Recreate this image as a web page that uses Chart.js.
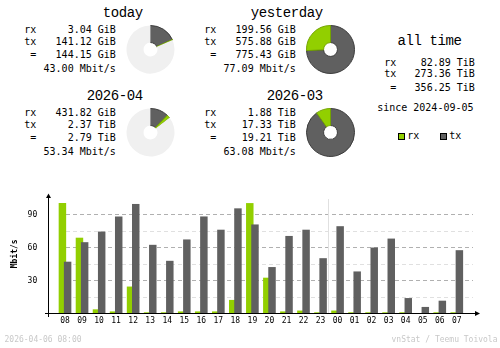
<!DOCTYPE html>
<html>
<head>
<meta charset="utf-8">
<script src="https://cdn.jsdelivr.net/npm/chart.js@4.4.1/dist/chart.umd.min.js"></script>
<style>
html,body{margin:0;padding:0;background:#ffffff;}
#wrap{position:relative;width:500px;height:348px;overflow:hidden;background:#fff;font-family:"DejaVu Sans Mono",monospace;color:#000;}
.t{position:absolute;white-space:pre;margin:0;padding:0;}
.pie{position:absolute;}
.sq{position:absolute;box-sizing:border-box;border:1px solid #000;}
#bars{position:absolute;left:0;top:170px;}
</style>
</head>
<body>
<div id="wrap">
<canvas id="bars" width="500" height="178"></canvas>
</div>
<script>
// ---------------- data ----------------
const periodTitles = ['today', 'yesterday', '2026-04', '2026-03'];
const rxLabels    = ['3.04 GiB', '199.56 GiB', '431.82 GiB', '1.88 TiB'];
const txLabels    = ['141.12 GiB', '575.88 GiB', '2.37 TiB', '17.33 TiB'];
const totalLabels = ['144.15 GiB', '775.43 GiB', '2.79 TiB', '19.21 TiB'];
const rateLabels  = ['43.00 Mbit/s', '77.09 Mbit/s', '53.34 Mbit/s', '63.08 Mbit/s'];
// same values in GiB for the pies (TiB * 1024)
const rxGiB = [3.04, 199.56, 431.82, 1925.12];
const txGiB = [141.12, 575.88, 2426.88, 17745.92];
const totalGiB = [144.15, 775.43, 2856.96, 19671.04];
const pieReference = [1, 1, 3, 3]; // each pie is scaled to this period's total

const allTimeTitle = 'all time';
const allTimeRx = '82.89 TiB';
const allTimeTx = '273.36 TiB';
const allTimeTotal = '356.25 TiB';
const sinceText = 'since 2024-09-05';

const hours  = ['08','09','10','11','12','13','14','15','16','17','18','19',
                '20','21','22','23','00','01','02','03','04','05','06','07'];
const rxMbit = [100.8, 69.2, 3.8, 1.9, 24.6, 1.1, 1.1, 1.9, 1.9, 1.9, 12.4, 100.8,
                32.7, 1.9, 2.7, 1.1, 2.7, 1.1, 1.1, 1.1, 1.1, 0.3, 1.1, 1.1];
const txMbit = [47.3, 65.1, 74.8, 88.6, 100.0, 62.7, 48.1, 67.6, 88.6, 76.5, 96.0, 81.3,
                42.4, 70.8, 76.5, 50.5, 79.7, 38.4, 60.2, 68.4, 14.1, 6.0, 11.7, 57.8];
const yMajorTicks = [30, 60, 90];
const yMinorTicks = [15, 45, 75];
const yUnit = 'Mbit/s';
const dayBreakIndex = 16; // '00'
const generatedText = '2026-04-06 08:00';
const creditText = 'vnStat / Teemu Toivola';

// ---------------- style / layout ----------------
const RX = '#92cf00', TX = '#606060', FREE = '#f0f0f0';
const RX_EDGE = '#74a400', TX_EDGE = '#3c3c3c';
const FONT = '"DejaVu Sans Mono", monospace';
Chart.defaults.font.family = FONT;

const wrap = document.getElementById('wrap');
// baseline offsets (line-height = font-size)
const BASE_DEJAVU = 0.846, BASE_LIB = 0.7665;
function txt(s, x, base, size, opt) {
  opt = opt || {};
  const d = document.createElement('div');
  d.className = 't';
  d.textContent = s;
  d.style.fontSize = size + 'px';
  d.style.lineHeight = size + 'px';
  let k = BASE_DEJAVU;
  if (opt.lib) { d.style.fontFamily = '"Liberation Mono", monospace'; k = BASE_LIB; }
  d.style.top = (base - k * size) + 'px';
  if (opt.right) d.style.right = (500 - x) + 'px'; else d.style.left = x + 'px';
  if (opt.ls) d.style.letterSpacing = opt.ls + 'px';
  if (opt.color) d.style.color = opt.color;
  wrap.appendChild(d);
  return d;
}

const colDx = [0, 180, 0, 180];
const rowDy = [0, 0, 83, 83];
for (let i = 0; i < 4; i++) {
  const dx = colDx[i], dy = rowDy[i];
  txt(periodTitles[i], 142.8 + dx, 16.3 + dy, 14, {right: true, ls: -0.4, lib: true});
  txt('rx', 24.3 + dx, 33 + dy, 10);
  txt(rxLabels[i], 115.8 + dx, 33 + dy, 10, {right: true});
  txt('tx', 24.3 + dx, 45.6 + dy, 10);
  txt(txLabels[i], 115.8 + dx, 45.6 + dy, 10, {right: true});
  txt(' =', 24.3 + dx, 58.6 + dy, 10);
  txt(totalLabels[i], 115.8 + dx, 58.6 + dy, 10, {right: true});
  txt(rateLabels[i], 115.8 + dx, 72.8 + dy, 10, {right: true});

  // pie
  const cv = document.createElement('canvas');
  cv.className = 'pie';
  cv.width = 49; cv.height = 49;
  cv.style.left = (150.5 + dx - 24.5) + 'px';
  cv.style.top = (49 + dy - 24.5) + 'px';
  wrap.appendChild(cv);
  const rest = Math.max(0, totalGiB[pieReference[i]] - (rxGiB[i] + txGiB[i]));
  new Chart(cv, {
    type: 'doughnut',
    data: {
      labels: ['tx', 'rx', 'rest'],
      datasets: [{
        data: [txGiB[i], rxGiB[i], rest],
        backgroundColor: [TX, RX, FREE],
        borderColor: [TX_EDGE, RX_EDGE, FREE],
        borderWidth: [1, 1, 0]
      }]
    },
    options: {
      responsive: false, animation: false, events: [],
      cutout: '29%',
      plugins: {legend: {display: false}, tooltip: {enabled: false}}
    }
  });
}

// all time block
txt(allTimeTitle, 461.5, 45, 14, {right: true, ls: -0.4, lib: true});
txt('rx', 384.3, 66.7, 10);
txt(allTimeRx, 474.8, 66.7, 10, {right: true});
txt('tx', 384.3, 77.4, 10);
txt(allTimeTx, 474.8, 77.4, 10, {right: true});
txt(' =', 384.3, 91.6, 10);
txt(allTimeTotal, 474.8, 91.6, 10, {right: true});
txt(sinceText, 377.2, 111.7, 10);

// legend
function sq(x, y, c) {
  const d = document.createElement('div');
  d.className = 'sq';
  d.style.left = x + 'px'; d.style.top = y + 'px';
  d.style.width = '7px'; d.style.height = '7px';
  d.style.background = c;
  wrap.appendChild(d);
}
sq(398, 133, RX); txt('rx', 407.2, 139.5, 10);
sq(440, 133, TX); txt('tx', 449.3, 139.5, 10);

// footer
txt(generatedText, 4.5, 342.5, 8, {color: '#c8c8c8'});
txt(creditText, 497.5, 342.5, 8, {right: true, color: '#c8c8c8'});

// ---------------- bar chart ----------------
const vnPlugin = {
  id: 'vnstat',
  beforeDatasetsDraw(chart) {
    const ctx = chart.ctx, ys = chart.scales.y, xs = chart.scales.x;
    const ca = chart.chartArea;
    const gx0 = 66, gx1 = 473;
    ctx.save();
    ctx.lineWidth = 1;
    ctx.setLineDash([4, 3]);
    const line = (v, color) => {
      const p = Math.round(ys.getPixelForValue(v) - 0.5) + 0.5;
      ctx.strokeStyle = color;
      ctx.beginPath(); ctx.moveTo(gx0, p); ctx.lineTo(gx1, p); ctx.stroke();
    };
    yMinorTicks.forEach(v => line(v, '#e0e0e0'));
    yMajorTicks.forEach(v => line(v, '#b0b0b0'));
    ctx.setLineDash([]);
    const sx = Math.floor((xs.getPixelForValue(dayBreakIndex - 1) + xs.getPixelForValue(dayBreakIndex)) / 2) - 0.5;
    ctx.strokeStyle = '#e0e0e0';
    ctx.beginPath(); ctx.moveTo(sx, ca.top + 5); ctx.lineTo(sx, ca.bottom); ctx.stroke();
    ctx.restore();
    // rx first, tx over it
    [0, 1].forEach(i => chart.getDatasetMeta(i).controller.draw());
    return false;
  },
  afterDraw(chart) {
    const ctx = chart.ctx, ys = chart.scales.y;
    const ca = chart.chartArea;
    const y0 = ys.getPixelForValue(0);
    const ax = 48.5;
    ctx.save();
    ctx.strokeStyle = '#000'; ctx.fillStyle = '#000'; ctx.lineWidth = 1;
    ctx.beginPath(); ctx.moveTo(ax, ca.top + 2); ctx.lineTo(ax, y0 + 3.5); ctx.stroke();
    ctx.beginPath(); ctx.moveTo(ax - 3.5, y0); ctx.lineTo(477, y0); ctx.stroke();
    ctx.beginPath(); ctx.moveTo(ax, ca.top - 0.5); ctx.lineTo(ax - 2.5, ca.top + 4); ctx.lineTo(ax + 2.5, ca.top + 4); ctx.closePath(); ctx.fill();
    ctx.beginPath(); ctx.moveTo(480, y0); ctx.lineTo(475, y0 - 2.5); ctx.lineTo(475, y0 + 2.5); ctx.closePath(); ctx.fill();
    ctx.restore();
  }
};

new Chart(document.getElementById('bars'), {
  type: 'bar',
  data: {
    labels: hours,
    datasets: [
      {label: 'rx', data: rxMbit, backgroundColor: RX, borderWidth: 0, categoryPercentage: 0.61, barPercentage: 1.44},
      {label: 'tx', data: txMbit, backgroundColor: TX, borderWidth: 0, categoryPercentage: 0.61, barPercentage: 1.44}
    ]
  },
  options: {
    responsive: false, animation: false, events: [],
    layout: {padding: {left: 0, right: 34.7, top: 9, bottom: 0}},
    plugins: {legend: {display: false}, tooltip: {enabled: false}},
    scales: {
      x: {
        offset: true,
        grid: {display: false, drawTicks: false},
        border: {display: false},
        ticks: {font: {size: 8}, color: '#000', padding: 3, maxRotation: 0, autoSkip: false},
        afterFit: s => { s.height = 34.5; }
      },
      y: {
        min: 0, max: 109,
        grid: {display: false, drawTicks: false},
        border: {display: false},
        ticks: {stepSize: 30, includeBounds: false, font: {size: 8}, color: '#000', padding: 19.3,
                callback: v => (v === 0 ? '' : v)},
        title: {display: true, text: yUnit, font: {size: 8, weight: 'bold'}, color: '#000', padding: {top: 9.7, bottom: 0}},
        afterFit: s => { s.width = 56.5; }
      }
    }
  },
  plugins: [vnPlugin]
});
</script>
</body>
</html>
